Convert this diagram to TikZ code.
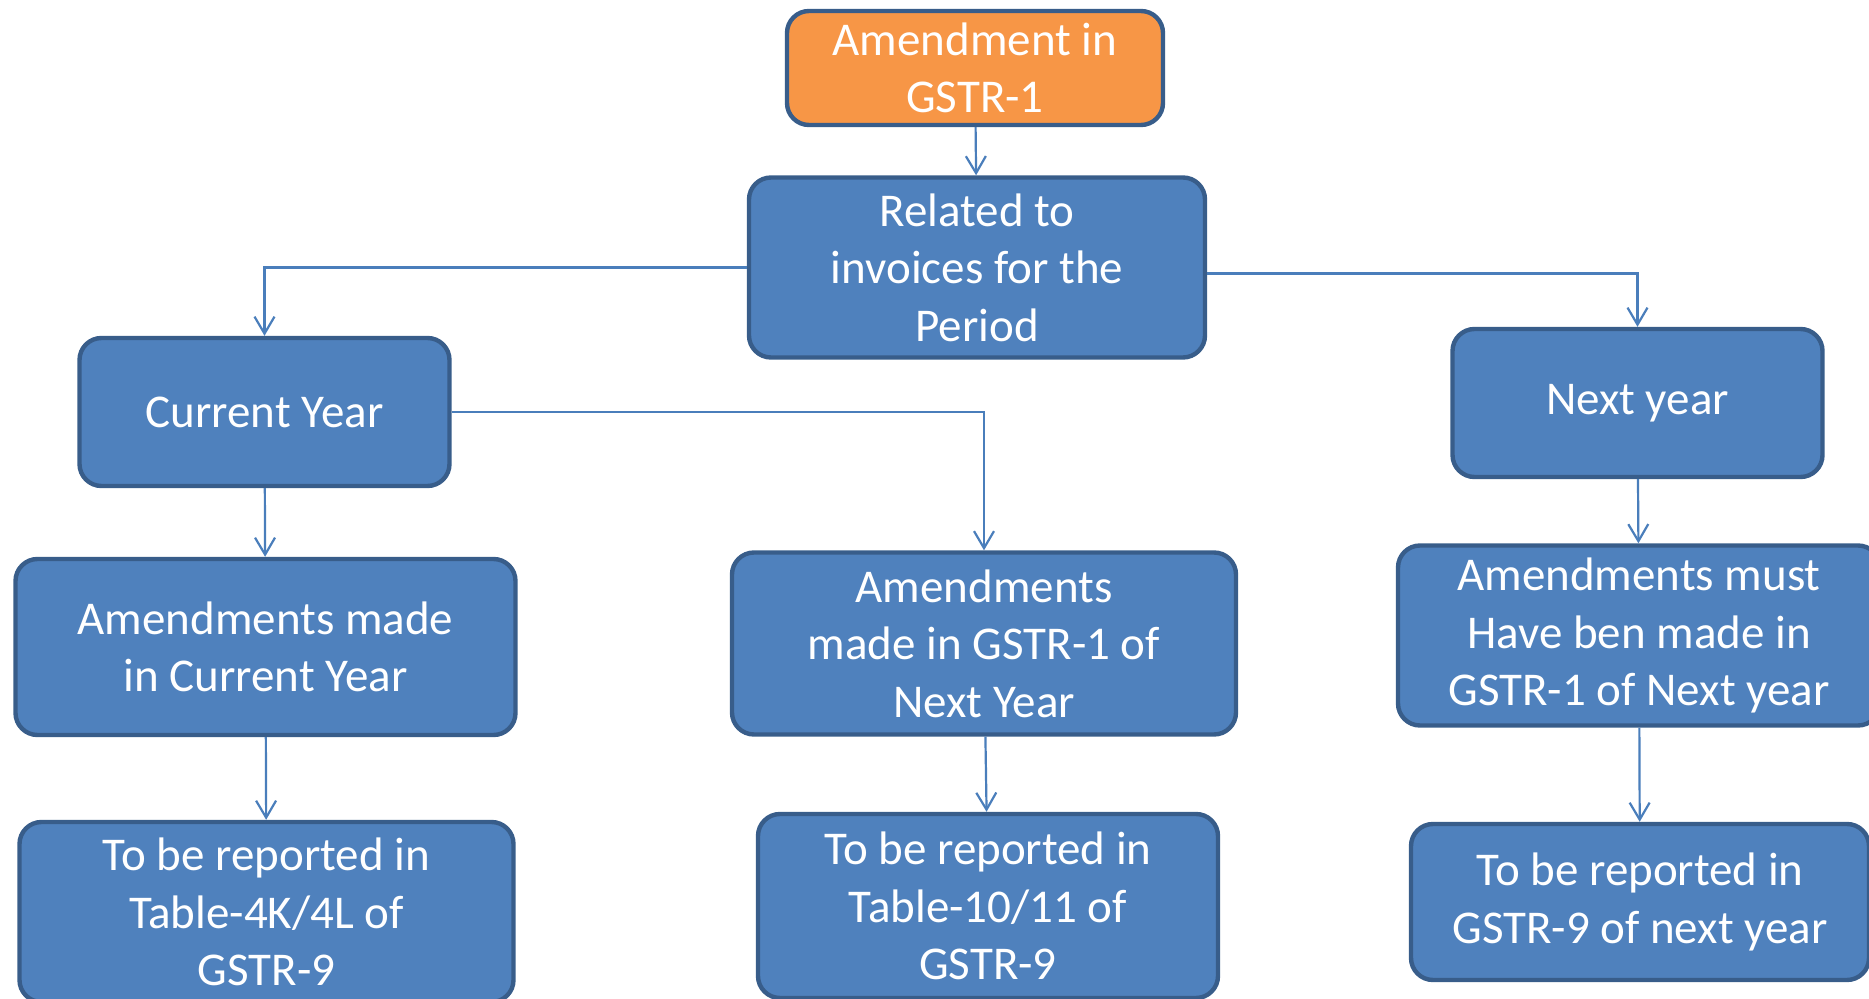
\documentclass[tikz,border=0pt]{standalone}
\usepackage{fontspec}
\setmainfont{Carlito}
\usetikzlibrary{arrows.meta}
\definecolor{boxblue}{HTML}{4F81BD}
\definecolor{boxline}{HTML}{385D8A}
\definecolor{boxorange}{HTML}{F79646}
\definecolor{linkblue}{HTML}{4A7EBB}
\begin{document}
\begin{tikzpicture}[x=0.5pt, y=-0.5pt,
  >={Straight Barb[length=8.5pt,width=10pt]},
  box/.style={draw=boxline, line width=2.2pt, fill=boxblue, rounded corners=11pt,
    text=white, align=center, inner sep=0pt,
    font=\fontsize{23.5pt}{28.8pt}\selectfont},
  link/.style={->, draw=linkblue, line width=1.1pt}]
\useasboundingbox (0,0) rectangle (1869,999);
\clip (0,0) rectangle (1869,999);

\node[box, fill=boxorange, minimum width=188pt, minimum height=57pt] (gstr) at (975,68) {Amendment in\\GSTR-1};
\node[box, minimum width=228pt, minimum height=90pt] (related) at (977,267.5) {Related to\\invoices for the\\Period};

\node[box, minimum width=185pt, minimum height=74pt] (cur) at (264.5,412) {Current Year};
\node[box, minimum width=185pt, minimum height=74pt] (next) at (1637.5,403) {Next year};

\node[box, minimum width=250pt, minimum height=88pt] (curamend) at (265.5,647) {Amendments made\\in Current Year};
\node[box, minimum width=252pt, minimum height=91pt] (midamend) at (984,643.5) {Amendments\\made in GSTR-1 of\\Next Year};
\node[box, minimum width=241pt, minimum height=90pt] (nextamend) at (1639,635.5) {Amendments must\\Have ben made in\\GSTR-1 of Next year};

\node[box, minimum width=247pt, minimum height=90pt] (curreport) at (266.5,912) {To be reported in\\Table-4K/4L of\\GSTR-9};
\node[box, minimum width=230pt, minimum height=92pt] (midreport) at (988,906) {To be reported in\\Table-10/11 of\\GSTR-9};
\node[box, minimum width=229pt, minimum height=78pt] (nextreport) at (1640,902) {To be reported in\\GSTR-9 of next year};

\draw[link] (gstr) -- (related);
\draw[link] (related.west) -| (cur);
\draw[link] ([yshift=-3pt]related.east) -| (next);
\draw[link] (cur.east) -| (midamend);
\draw[link] (cur) -- (curamend);
\draw[link] (curamend) -- (curreport);
\draw[link] (midamend) -- (midreport);
\draw[link] (next) -- (nextamend);
\draw[link] (nextamend) -- (nextreport);
\end{tikzpicture}
\end{document}
